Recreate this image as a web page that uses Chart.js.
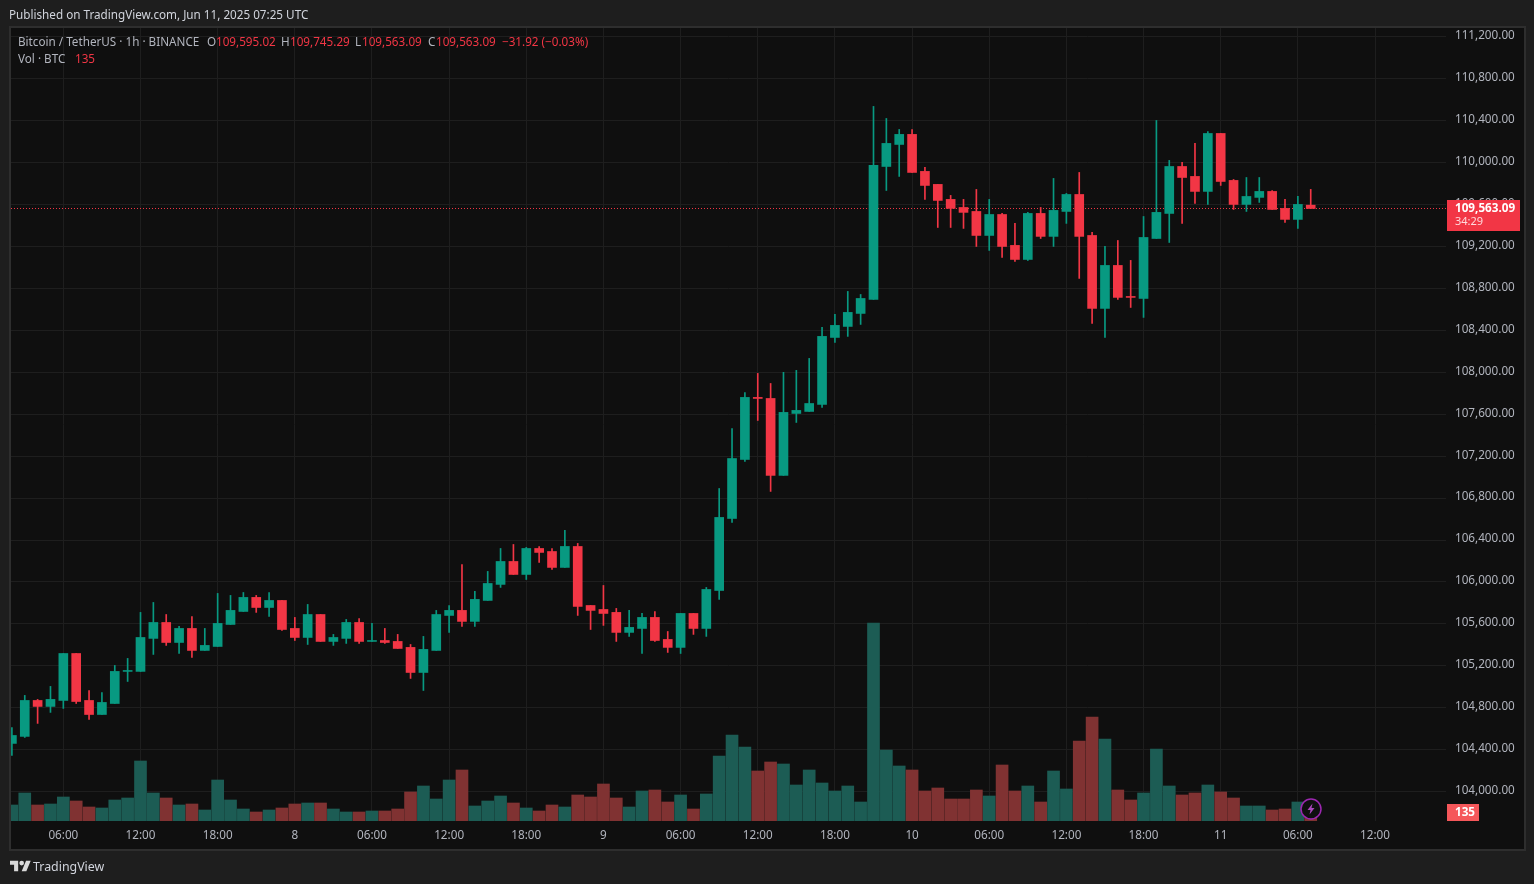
<!DOCTYPE html>
<html>
<head>
    <title>Bitcoin / TetherUS 1h</title>
    <script src="https://cdn.jsdelivr.net/npm/chart.js"></script>
    <style>
        html, body { margin: 0; padding: 0; width: 1534px; height: 884px; overflow: hidden; background: #1e1e1e; }
        body, .txt { font-family: "Noto Sans", sans-serif; font-size: 11.7px; }
        #pane { position: absolute; left: 9px; top: 26px; width: 1513px; height: 821px; background: #0f0f0f; border: 2px solid #2e2e2e; }
        #chart { position: absolute; left: 0; top: 0; }
        .txt { position: absolute; white-space: pre; line-height: 16px; color: #b2b5be; }
        .red { color: #f23645; }
        #bolt { position: absolute; left: 1300px; top: 798px; }
        #logo { position: absolute; left: 10px; top: 860px; }
    </style>
</head>
<body>
    <div id="pane"></div>
    <canvas id="chart" width="1534" height="884"></canvas>

    <div class="txt" style="left:9px;top:6px;color:#d1d4dc">Published on TradingView.com, Jun 11, 2025 07:25 UTC</div>
    <div class="txt" style="left:18px;top:33px">Bitcoin / TetherUS · 1h · BINANCE</div>
    <div class="txt" style="left:207px;top:33px">O</div>
    <div class="txt red" style="left:216px;top:33px">109,595.02</div>
    <div class="txt" style="left:281px;top:33px">H</div>
    <div class="txt red" style="left:290px;top:33px">109,745.29</div>
    <div class="txt" style="left:355px;top:33px">L</div>
    <div class="txt red" style="left:362px;top:33px">109,563.09</div>
    <div class="txt" style="left:428px;top:33px">C</div>
    <div class="txt red" style="left:436px;top:33px">109,563.09</div>
    <div class="txt red" style="left:502px;top:33px">−31.92 (−0.03%)</div>
    <div class="txt" style="left:18px;top:50px">Vol · BTC</div>
    <div class="txt red" style="left:75px;top:50px">135</div>

    <svg id="bolt" width="22" height="22" viewBox="0 0 22 22">
        <circle cx="11" cy="11" r="10" fill="#0f0f0f" stroke="#9c27b0" stroke-width="1.5"/>
        <path d="M12.5 5.5 L7.5 12 L10.5 12 L9.5 16.5 L14.5 10 L11.5 10 Z" fill="#ab47bc"/>
    </svg>
    <svg id="logo" width="21" height="12" viewBox="0 4 36 18">
        <path fill="#d9d9d9" d="M14 22H7V11H0V4h14v18zM28 22h-8l7.5-18h8L28 22z"/>
        <circle fill="#d9d9d9" cx="20" cy="8" r="4"/>
    </svg>
    <div class="txt" style="left:33px;top:859px;font-size:12.4px;color:#d1d4dc">TradingView</div>

    <script>
        const opens = [104460,104527,104870,104813,104870,105318,104870,104736,104841,105147,105147,105462,105614,105423,105557,105347,105385,105595,105719,105853,105757,105824,105557,105471,105690,105433,105462,105614,105433,105442,105433,105376,105137,105347,105681,105729,105624,105824,105977,106196,106072,106320,106291,106139,106339,105776,105738,105710,105519,105557,105662,105452,105376,105700,105557,105919,106606,107169,107761,107751,107017,107608,107627,107694,108333,108438,108562,108696,109964,110174,110270,109917,109793,109650,109573,109535,109306,109506,109211,109077,109516,109297,109535,109697,109306,108610,109020,108724,108705,109277,109516,109964,109869,109726,110279,109831,109602,109669,109726,109564,109459,109595.02];
        const highs = [104612,104918,104880,105004,105318,105318,104965,104946,105204,105271,105710,105805,105690,105576,105671,105557,105891,105872,105900,105872,105900,105824,105662,105786,105690,105500,105643,105652,105605,105557,105500,105404,105481,105729,105776,106167,105910,106101,106320,106358,106330,106339,106320,106492,106368,105776,105967,105748,105729,105700,105719,105528,105700,105700,105948,106892,107464,107808,107990,107894,108000,108019,108133,108429,108553,108772,108743,110537,110422,110317,110317,109955,109793,109688,109650,109745,109650,109516,109421,109526,109573,109850,109707,109907,109335,109201,109258,109068,109487,110403,110022,110003,110184,110298,110279,109840,109859,109859,109735,109650,109678,109745.29];
        const lows = [104345,104517,104651,104756,104794,104841,104689,104736,104841,105051,105147,105309,105395,105318,105280,105347,105385,105595,105719,105710,105671,105538,105442,105404,105433,105395,105414,105414,105433,105414,105366,105080,104965,105347,105519,105576,105576,105824,105948,106072,106024,106187,106120,106139,105681,105547,105586,105433,105481,105318,105433,105328,105318,105500,105481,105834,106568,107150,107541,106864,107017,107522,107627,107665,108285,108343,108457,108696,109735,109869,109907,109650,109382,109382,109373,109201,109163,109096,109058,109067,109277,109201,109421,108896,108467,108333,108696,108619,108524,109277,109239,109421,109611,109602,109783,109554,109535,109621,109554,109430,109373,109563.09];
        const closes = [104536,104870,104813,104880,105318,104860,104736,104851,105147,105156,105471,105614,105423,105557,105347,105395,105605,105729,105853,105757,105824,105547,105471,105690,105433,105471,105614,105433,105442,105423,105366,105137,105357,105690,105729,105624,105834,105986,106196,106072,106320,106282,106139,106339,105767,105729,105700,105519,105567,105662,105442,105376,105700,105557,105929,106616,107178,107761,107751,107017,107618,107637,107703,108343,108448,108572,108705,109974,110184,110270,109907,109783,109640,109564,109526,109306,109506,109201,109077,109516,109297,109545,109697,109297,108610,109020,108715,108715,109287,109526,109964,109859,109726,110279,109821,109602,109678,109726,109554,109459,109602,109563.09];
        const volumes = [400,700,400,425,600,500,350,325,525,575,1500,700,575,400,425,275,1025,525,300,225,275,325,425,450,450,300,225,225,250,250,300,725,875,550,1025,1275,375,500,625,450,325,250,400,350,650,600,925,575,350,750,775,475,650,300,675,1625,2150,1850,1250,1475,1425,900,1275,950,750,875,475,4950,1775,1375,1275,750,825,550,550,775,625,1400,750,875,475,1250,800,2000,2600,2050,775,525,700,1800,875,650,700,900,725,575,375,375,275,300,475,135];

        const priceTicks = [111200,110800,110400,110000,109600,109200,108800,108400,108000,107600,107200,106800,106400,106000,105600,105200,104800,104400,104000];
        const timeTickBars = [4,10,16,22,28,34,40,46,52,58,64,70,76,82,88,94,100,106];
        const timeTickLabels = ['06:00','12:00','18:00','8','06:00','12:00','18:00','9','06:00','12:00','18:00','10','06:00','12:00','18:00','11','06:00','12:00'];

        const lastPrice = closes[closes.length - 1];
        const lastVolume = volumes[volumes.length - 1];
        const firstBar = -0.07, lastBar = 111.52;

        const UP = '#089981', DOWN = '#f23645';
        const VOL_UP = '#1c5c54', VOL_DOWN = '#803232';
        const GRID = '#1e1e1e';
        const AXIS_TEXT = '#b2b5be';
        const FONT = '"Noto Sans", sans-serif';

        const isUp = i => closes[i] >= opens[i];
        const fmtPrice = v => v.toLocaleString('en-US', { minimumFractionDigits: 2, maximumFractionDigits: 2 });

        // price and volume tags on the right axis
        const tagsPlugin = {
            id: 'tags',
            afterDraw(chart) {
                const c = chart.ctx, y = chart.scales.y, area = chart.chartArea;
                const py = y.getPixelForValue(lastPrice);
                c.save();
                c.fillStyle = DOWN;
                c.fillRect(area.right + 1, py - 8.5, 73, 31);
                c.textBaseline = 'middle';
                c.textAlign = 'left';
                c.fillStyle = '#ffffff';
                c.font = 'bold 11.7px ' + FONT;
                c.fillText(fmtPrice(lastPrice), area.right + 9, py);
                c.font = '11px ' + FONT;
                c.fillStyle = '#ffd9dc';
                c.fillText('34:29', area.right + 9, py + 13);

                c.fillStyle = '#f5575a';
                c.fillRect(area.right + 1, area.bottom - 17, 32, 17);
                c.fillStyle = '#ffffff';
                c.font = 'bold 11.7px ' + FONT;
                c.textAlign = 'center';
                c.fillText(String(lastVolume), area.right + 19, area.bottom - 8);
                c.restore();
            }
        };

        const ctx = document.getElementById('chart').getContext('2d');
        new Chart(ctx, {
            data: {
                datasets: [
                    {
                        type: 'line', label: 'Last price', yAxisID: 'y', order: 4,
                        data: [{ x: firstBar, y: lastPrice }, { x: lastBar, y: lastPrice }],
                        borderColor: DOWN, borderWidth: 1, borderDash: [1, 2], pointRadius: 0
                    },
                    {
                        type: 'bar', label: 'Volume', yAxisID: 'vol', order: 3, grouped: false, barThickness: 12,
                        data: volumes.map((v, i) => ({ x: i, y: v })),
                        backgroundColor: volumes.map((v, i) => isUp(i) ? VOL_UP : VOL_DOWN)
                    },
                    {
                        type: 'bar', label: 'Wick', yAxisID: 'y', order: 2, grouped: false, barThickness: 1,
                        data: highs.map((h, i) => ({ x: i, y: [lows[i], h] })),
                        backgroundColor: highs.map((h, i) => isUp(i) ? UP : DOWN)
                    },
                    {
                        type: 'bar', label: 'Body', yAxisID: 'y', order: 1, grouped: false, barThickness: 9,
                        data: opens.map((o, i) => ({ x: i, y: [o, closes[i]] })),
                        backgroundColor: opens.map((o, i) => isUp(i) ? UP : DOWN)
                    }
                ]
            },
            plugins: [tagsPlugin],
            options: {
                responsive: false,
                animation: false,
                layout: { padding: { left: 11, top: 28, right: 0, bottom: 0 } },
                plugins: { legend: { display: false }, tooltip: { enabled: false }, title: { display: false } },
                scales: {
                    x: {
                        type: 'linear', min: firstBar, max: lastBar, offset: false,
                        afterBuildTicks: axis => { axis.ticks = timeTickBars.map(v => ({ value: v })); },
                        afterFit: axis => { axis.height = 63; },
                        grid: { color: GRID, drawTicks: false, offset: false },
                        border: { display: false },
                        ticks: {
                            autoSkip: false, maxRotation: 0, padding: 8, color: AXIS_TEXT, font: { family: FONT, size: 11.7 },
                            callback: v => timeTickLabels[timeTickBars.indexOf(v)]
                        }
                    },
                    y: {
                        position: 'right',
                        min: 103720, max: 111285,
                        afterBuildTicks: axis => { axis.ticks = priceTicks.map(v => ({ value: v })); },
                        afterFit: axis => { axis.width = 88; },
                        grid: { color: GRID, drawTicks: false },
                        border: { display: false },
                        ticks: {
                            autoSkip: false, padding: 9, labelOffset: -1, color: AXIS_TEXT, font: { family: FONT, size: 11.7 },
                            callback: v => fmtPrice(v)
                        }
                    },
                    vol: { display: false, min: 0, max: 19825 }
                }
            }
        });
    </script>
</body>
</html>
